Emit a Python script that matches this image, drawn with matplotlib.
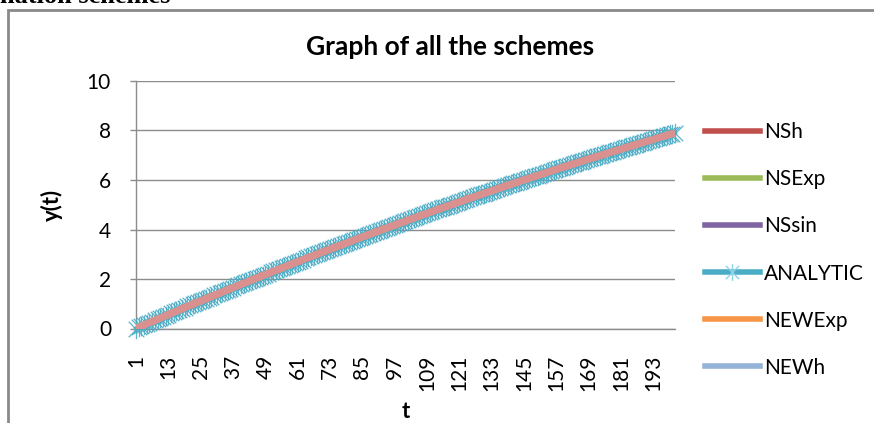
import matplotlib
matplotlib.use("Agg")
import matplotlib.pyplot as plt
from matplotlib.lines import Line2D
from matplotlib.path import Path
from matplotlib.patches import Rectangle

# ---- data ----
t = list(range(1, 202))
y_values = [
    0.00, 0.05, 0.09, 0.14, 0.19, 0.24, 0.28, 0.33, 0.38, 0.42,
    0.47, 0.52, 0.56, 0.61, 0.66, 0.70, 0.75, 0.79, 0.84, 0.89,
    0.93, 0.98, 1.02, 1.07, 1.11, 1.16, 1.20, 1.25, 1.29, 1.34,
    1.38, 1.43, 1.47, 1.52, 1.56, 1.61, 1.65, 1.70, 1.74, 1.79,
    1.83, 1.87, 1.92, 1.96, 2.01, 2.05, 2.09, 2.14, 2.18, 2.22,
    2.27, 2.31, 2.35, 2.40, 2.44, 2.48, 2.53, 2.57, 2.61, 2.66,
    2.70, 2.74, 2.78, 2.83, 2.87, 2.91, 2.95, 2.99, 3.04, 3.08,
    3.12, 3.16, 3.20, 3.25, 3.29, 3.33, 3.37, 3.41, 3.45, 3.49,
    3.53, 3.58, 3.62, 3.66, 3.70, 3.74, 3.78, 3.82, 3.86, 3.90,
    3.94, 3.98, 4.02, 4.06, 4.10, 4.14, 4.18, 4.22, 4.26, 4.30,
    4.34, 4.38, 4.42, 4.46, 4.50, 4.54, 4.58, 4.62, 4.65, 4.69,
    4.73, 4.77, 4.81, 4.85, 4.89, 4.92, 4.96, 5.00, 5.04, 5.08,
    5.11, 5.15, 5.19, 5.23, 5.27, 5.30, 5.34, 5.38, 5.42, 5.45,
    5.49, 5.53, 5.56, 5.60, 5.64, 5.68, 5.71, 5.75, 5.79, 5.82,
    5.86, 5.89, 5.93, 5.97, 6.00, 6.04, 6.07, 6.11, 6.15, 6.18,
    6.22, 6.25, 6.29, 6.32, 6.36, 6.40, 6.43, 6.47, 6.50, 6.54,
    6.57, 6.60, 6.64, 6.67, 6.71, 6.74, 6.78, 6.81, 6.85, 6.88,
    6.91, 6.95, 6.98, 7.02, 7.05, 7.08, 7.12, 7.15, 7.18, 7.22,
    7.25, 7.28, 7.32, 7.35, 7.38, 7.42, 7.45, 7.48, 7.51, 7.55,
    7.58, 7.61, 7.64, 7.68, 7.71, 7.74, 7.77, 7.81, 7.84, 7.87,
    7.90,
]
series_names = ["NSh", "NSExp", "NSsin", "ANALYTIC", "NEWExp", "NEWh"]
series_colors = ["#C0504D", "#9BBB59", "#8064A2", "#4BACC6", "#F79646", "#95B3D7"]
series_data = {name: y_values for name in series_names}
x_ticks = list(range(1, 194, 12))
y_ticks = [0, 2, 4, 6, 8, 10]

# ---- figure ----
W, H = 874, 423
fig = plt.figure(figsize=(W / 100, H / 100), dpi=100)
ax = fig.add_axes([136 / W, 1 - 328.5 / H, (675 - 136) / W, (328.5 - 81) / H])

tick_font = "Lato"
grid_col = "#8C8C8C"

# asterisk marker (vertical + X)
star = Path([(0, -1), (0, 1), (-0.8, -0.8), (0.8, 0.8), (-0.8, 0.8), (0.8, -0.8)],
            [Path.MOVETO, Path.LINETO, Path.MOVETO, Path.LINETO, Path.MOVETO, Path.LINETO])

for name, col in zip(series_names, series_colors):
    ys = series_data[name]
    if name == "ANALYTIC":
        ax.plot(t, ys, color=col, lw=3, marker=star, markersize=14,
                markeredgewidth=0.9, markeredgecolor="#4BACC6", alpha=0.9, zorder=3,
                clip_on=False)
    else:
        ax.plot(t, ys, color=col, lw=5, zorder=4, solid_capstyle="butt")
# visible top line (blend of overlapping series)
ax.plot(t, series_data["NSh"], color="#D9908E", lw=5, zorder=6, solid_capstyle="butt")

ax.set_xlim(1, 201)
ax.set_ylim(0, 10)
ax.set_xticks(x_ticks)
ax.set_xticklabels([str(v) for v in x_ticks], rotation=90, fontsize=15,
                   family=tick_font, va="top")
ax.set_yticks(y_ticks)
ax.set_yticklabels([str(v) for v in y_ticks], fontsize=15, family=tick_font)
ax.tick_params(axis="x", length=0, pad=19)
ax.tick_params(axis="y", length=4, width=1, color=grid_col, pad=14)
ax.yaxis.grid(True, color=grid_col, lw=1)
ax.set_axisbelow(True)
for s in ["top", "right"]:
    ax.spines[s].set_visible(False)
for s in ["left", "bottom"]:
    ax.spines[s].set_color(grid_col)
    ax.spines[s].set_linewidth(1)
    ax.spines[s].set_zorder(1)

# texts
fig.text(450 / W, 1 - 47 / H, "Graph of all the schemes", ha="center", va="center",
         fontsize=19, fontweight="bold", family=tick_font)
fig.text(52 / W, 1 - 205 / H, "y(t)", ha="center", va="center", rotation=90,
         fontsize=16, fontweight="bold", family=tick_font)
fig.text(406 / W, 1 - 411 / H, "t", ha="center", va="center",
         fontsize=16, fontweight="bold", family=tick_font)
fig.text(170 / W, 1 - 3 / H, "nation schemes", ha="right", va="baseline",
         fontsize=19, fontweight="bold", family="Liberation Serif")

# chart border (left and top visible)
fig.patches.append(Rectangle((8 / W, -0.2), 1.2, 1 - 10 / H + 0.2, transform=fig.transFigure,
                             fill=False, edgecolor="#8A8A8A", lw=2, zorder=0))

# legend
handles = []
for name, col in zip(series_names, series_colors):
    if name == "ANALYTIC":
        handles.append(Line2D([], [], color=col, lw=4, marker=star, markersize=12,
                              markeredgecolor="#8ED3E6", markeredgewidth=1))
    else:
        handles.append(Line2D([], [], color=col, lw=4))
leg = fig.legend(handles, series_names, loc="upper left",
                 bbox_to_anchor=(697 / W, 1 - 114 / H), frameon=False,
                 prop={"family": tick_font, "size": 15}, handlelength=2.6,
                 handletextpad=0.2, labelspacing=1.3, borderaxespad=0)

fig.savefig("out.png", dpi=100)
